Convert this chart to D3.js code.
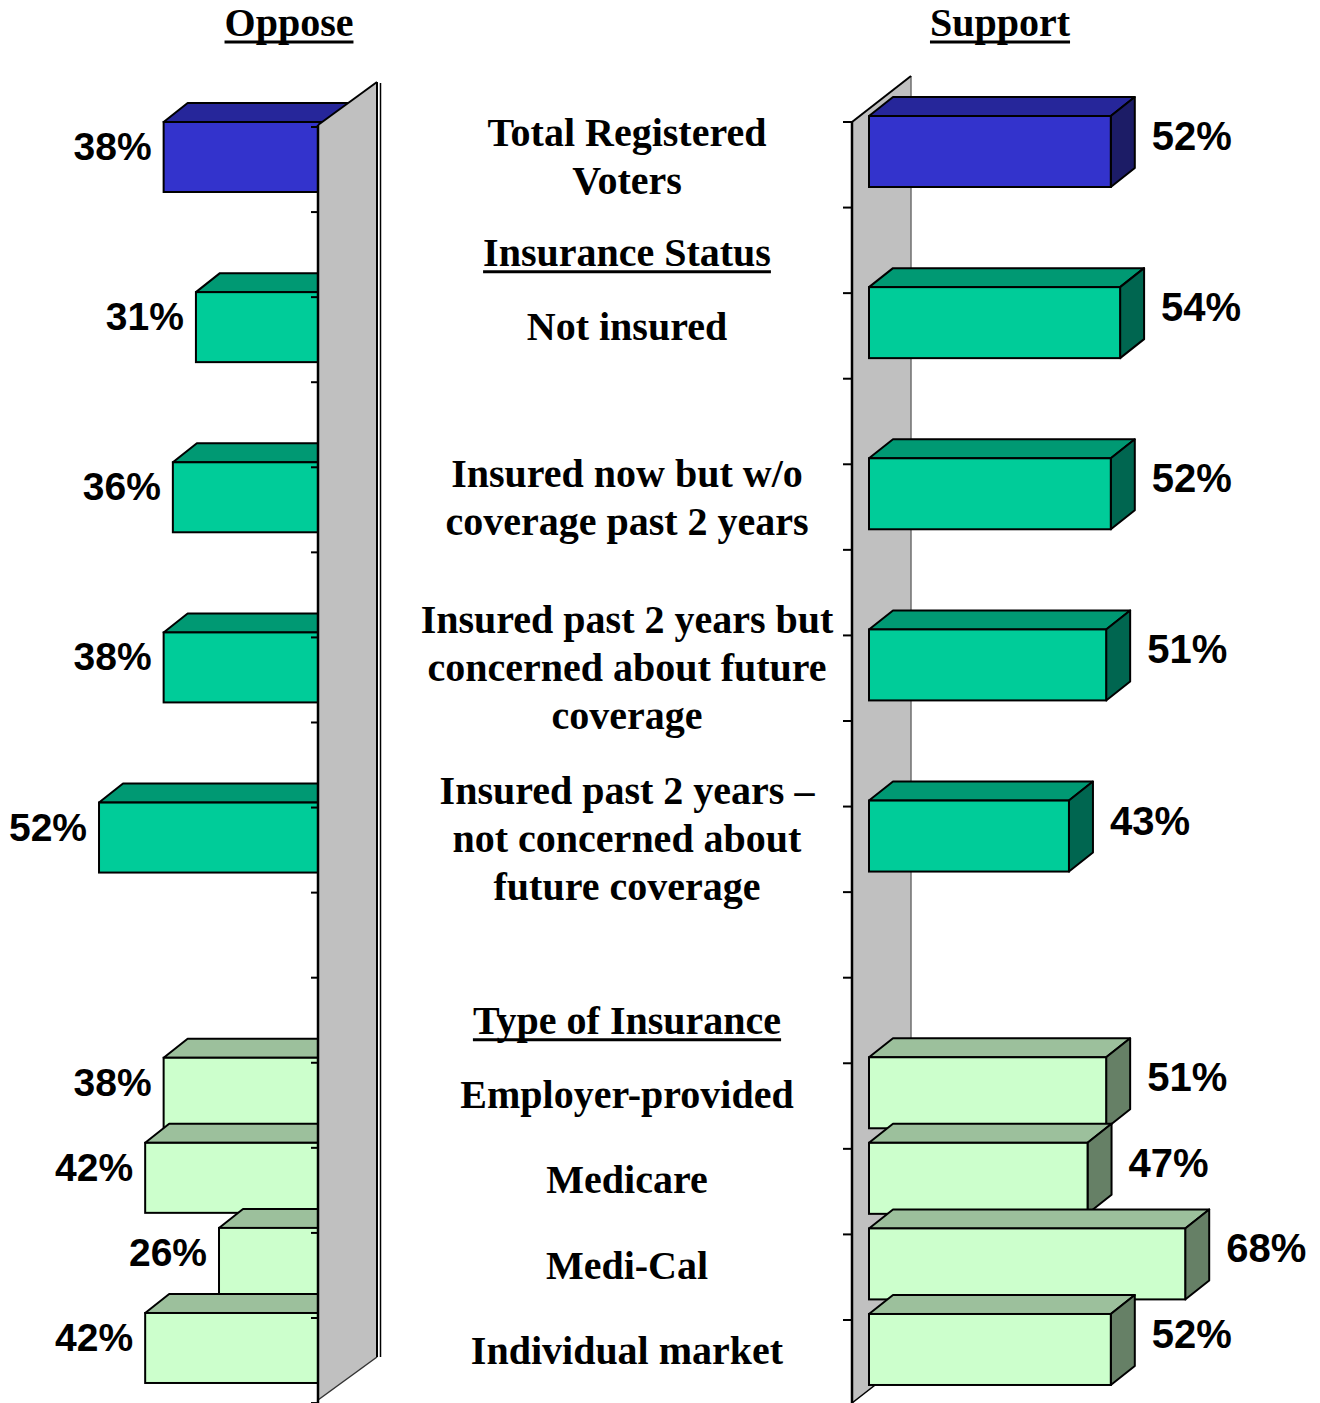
<!DOCTYPE html>
<html>
<head>
<meta charset="utf-8">
<script src="https://cdn.jsdelivr.net/npm/d3@7"></script>
<style>
  html, body { margin: 0; padding: 0; background: #ffffff; }
  svg { display: block; }
</style>
</head>
<body>
<script>
// ---------------- DATA ----------------
const slots = [
  "Total Registered Voters", "Insurance Status", "Not insured", "gap1",
  "Insured now but w/o coverage past 2 years", "gap2",
  "Insured past 2 years but concerned about future coverage", "gap3",
  "Insured past 2 years – not concerned about future coverage", "gap4",
  "Type of Insurance", "Employer-provided", "Medicare", "Medi-Cal", "Individual market"
];
const categories = [
  "Total Registered Voters", "Not insured",
  "Insured now but w/o coverage past 2 years",
  "Insured past 2 years but concerned about future coverage",
  "Insured past 2 years – not concerned about future coverage",
  "Employer-provided", "Medicare", "Medi-Cal", "Individual market"
];
const categoryLines = [
  ["Total Registered", "Voters"],
  ["Not insured"],
  ["Insured now but w/o", "coverage past 2 years"],
  ["Insured past 2 years but", "concerned about future", "coverage"],
  ["Insured past 2 years –", "not concerned about", "future coverage"],
  ["Employer-provided"], ["Medicare"], ["Medi-Cal"], ["Individual market"]
];
const groups = ["total", "status", "status", "status", "status", "type", "type", "type", "type"];
const oppose  = [38, 31, 36, 38, 52, 38, 42, 26, 42];
const support = [52, 54, 52, 51, 43, 51, 47, 68, 52];
const sectionHeaders = ["Insurance Status", "Type of Insurance"];
const panelTitles = ["Oppose", "Support"];

// ---------------- STYLE ----------------
const colors = {
  total:  { front: "#3333CC", top: "#26269A", side: "#1C1C66" },
  status: { front: "#00CC99", top: "#009973", side: "#006650" },
  type:   { front: "#CCFFCC", top: "#9CC09C", side: "#668066" }
};
const W = 1320, H = 1403;
const sansFont = "'Liberation Sans', Arial, sans-serif";
const serifFont = "'Liberation Serif', 'Times New Roman', serif";
const serifSize = 40;

const svg = d3.select("body").append("svg").attr("width", W).attr("height", H);

const data = categories.map((c, i) => ({ c, lines: categoryLines[i], g: groups[i], o: oppose[i], s: support[i] }));

// scales
const yL = d3.scaleBand().domain(slots).range([127, 127 + 15 * 85.07]);
const yR = d3.scaleBand().domain(slots).range([122, 122 + 15 * 85.57]);
const xL = d3.scaleLinear().domain([0, 100]).range([339, 339 - 461.5]);
const xR = d3.scaleLinear().domain([0, 100]).range([869, 869 + 465]);
const DX = 24, DY = -19;

// ---------------- LEFT PANEL (Oppose) ----------------
const gl = svg.append("g");
const lb = gl.selectAll("g.bar").data(data).enter().append("g").attr("class", "bar");
lb.append("polygon")
  .attr("points", d => {
    const t = yL(d.c) - 5;
    return [[xL(d.o), t], [xL(d.o) + DX, t + DY], [xL(0) + DX, t + DY], [xL(0), t]].join(" ");
  })
  .attr("fill", d => colors[d.g].top).attr("stroke", "#000").attr("stroke-width", 2).attr("stroke-linejoin", "round");
lb.append("rect")
  .attr("x", d => xL(d.o)).attr("y", d => yL(d.c) - 5)
  .attr("width", d => xL(0) - xL(d.o)).attr("height", 70)
  .attr("fill", d => colors[d.g].front).attr("stroke", "#000").attr("stroke-width", 2);

// wall (left)
const wl = { x: 318, top: 125, bottom: 1400, dx: 59, dy: -43 };
gl.append("polygon")
  .attr("points", [[wl.x, wl.top], [wl.x + wl.dx, wl.top + wl.dy], [wl.x + wl.dx, wl.bottom + wl.dy], [wl.x, wl.bottom]].join(" "))
  .attr("fill", "#C0C0C0");
gl.append("line").attr("x1", wl.x).attr("x2", wl.x + wl.dx).attr("y1", wl.top).attr("y2", wl.top + wl.dy)
  .attr("stroke", "#000").attr("stroke-width", 2);
gl.append("line").attr("x1", wl.x).attr("x2", wl.x + wl.dx).attr("y1", wl.bottom).attr("y2", wl.bottom + wl.dy)
  .attr("stroke", "#333").attr("stroke-width", 1.5);
gl.append("line").attr("x1", wl.x + wl.dx).attr("x2", wl.x + wl.dx).attr("y1", wl.top + wl.dy).attr("y2", wl.bottom + wl.dy)
  .attr("stroke", "#000").attr("stroke-width", 2);
gl.append("line").attr("x1", wl.x + wl.dx + 3.5).attr("x2", wl.x + wl.dx + 3.5).attr("y1", wl.top + wl.dy + 1).attr("y2", wl.bottom + wl.dy)
  .attr("stroke", "#000").attr("stroke-width", 1.5);
gl.append("line").attr("x1", wl.x).attr("x2", wl.x).attr("y1", wl.top).attr("y2", H)
  .attr("stroke", "#000").attr("stroke-width", 2.5);
// ticks left
const tickYL = slots.map(s => yL(s)).concat([yL.range()[1]]);
gl.selectAll("line.tick").data(tickYL).enter().append("line").attr("class", "tick")
  .attr("x1", wl.x - 7).attr("x2", wl.x).attr("y1", d => d).attr("y2", d => d)
  .attr("stroke", "#000").attr("stroke-width", 2);

// labels left
gl.selectAll("text.val").data(data).enter().append("text").attr("class", "val")
  .attr("x", d => xL(d.o) - 12).attr("y", d => yL(d.c) - 5 + 38)
  .attr("text-anchor", "end")
  .attr("font-family", sansFont).attr("font-weight", "bold").attr("font-size", 39)
  .text(d => d.o + "%");

// ---------------- RIGHT PANEL (Support) ----------------
const gr = svg.append("g");
const wr = { x: 852, top: 122, bottom: 1403, dx: 59, dy: -46 };
gr.append("polygon")
  .attr("points", [[wr.x, wr.top], [wr.x + wr.dx, wr.top + wr.dy], [wr.x + wr.dx, wr.bottom + wr.dy], [wr.x, wr.bottom]].join(" "))
  .attr("fill", "#C0C0C0");
gr.append("line").attr("x1", wr.x + wr.dx).attr("x2", wr.x + wr.dx).attr("y1", wr.top + wr.dy).attr("y2", wr.bottom + wr.dy)
  .attr("stroke", "#6f6f6f").attr("stroke-width", 1.5);
gr.append("line").attr("x1", wr.x).attr("x2", wr.x + wr.dx).attr("y1", wr.top).attr("y2", wr.top + wr.dy)
  .attr("stroke", "#000").attr("stroke-width", 2);
gr.append("line").attr("x1", wr.x).attr("x2", wr.x + wr.dx).attr("y1", wr.bottom).attr("y2", wr.bottom + wr.dy)
  .attr("stroke", "#000").attr("stroke-width", 1.5);
gr.append("line").attr("x1", wr.x).attr("x2", wr.x).attr("y1", wr.top).attr("y2", wr.bottom)
  .attr("stroke", "#000").attr("stroke-width", 2.5);
const tickYR = slots.map(s => yR(s)).concat([yR.range()[1]]);
gr.selectAll("line.tick").data(tickYR).enter().append("line").attr("class", "tick")
  .attr("x1", wr.x - 9).attr("x2", wr.x).attr("y1", d => d).attr("y2", d => d)
  .attr("stroke", "#000").attr("stroke-width", 2);

const rb = gr.selectAll("g.bar").data(data).enter().append("g").attr("class", "bar");
rb.append("polygon")
  .attr("points", d => {
    const t = yR(d.c) - 6;
    return [[xR(0), t], [xR(0) + DX, t + DY], [xR(d.s) + DX, t + DY], [xR(d.s), t]].join(" ");
  })
  .attr("fill", d => colors[d.g].top).attr("stroke", "#000").attr("stroke-width", 2).attr("stroke-linejoin", "round");
rb.append("polygon")
  .attr("points", d => {
    const t = yR(d.c) - 6, b = t + 71;
    return [[xR(d.s), t], [xR(d.s) + DX, t + DY], [xR(d.s) + DX, b + DY], [xR(d.s), b]].join(" ");
  })
  .attr("fill", d => colors[d.g].side).attr("stroke", "#000").attr("stroke-width", 2).attr("stroke-linejoin", "round");
rb.append("rect")
  .attr("x", xR(0)).attr("y", d => yR(d.c) - 6)
  .attr("width", d => xR(d.s) - xR(0)).attr("height", 71)
  .attr("fill", d => colors[d.g].front).attr("stroke", "#000").attr("stroke-width", 2);

gr.selectAll("text.val").data(data).enter().append("text").attr("class", "val")
  .attr("x", d => xR(d.s) + DX + 17).attr("y", d => yR(d.c) - 6 + 34)
  .attr("text-anchor", "start")
  .attr("font-family", sansFont).attr("font-weight", "bold").attr("font-size", 40)
  .text(d => d.s + "%");

// ---------------- CENTER CATEGORY LABELS ----------------
const cx = 627;
const lineH = 48;
const gc = svg.append("g");
data.forEach(d => {
  const cy = (yL(d.c) + yR(d.c)) / 2 + 32;
  const n = d.lines.length;
  d.lines.forEach((ln, j) => {
    gc.append("text")
      .attr("x", cx).attr("y", cy - (n - 1) * lineH / 2 + j * lineH + 13)
      .attr("text-anchor", "middle")
      .attr("font-family", serifFont).attr("font-weight", "bold").attr("font-size", serifSize)
      .text(ln);
  });
});

function underlinedText(g, text, x, y) {
  const t = g.append("text")
    .attr("x", x).attr("y", y).attr("text-anchor", "middle")
    .attr("font-family", serifFont).attr("font-weight", "bold").attr("font-size", serifSize)
    .text(text);
  const w = t.node().getComputedTextLength();
  g.append("line").attr("x1", x - w / 2).attr("x2", x + w / 2).attr("y1", y + 6).attr("y2", y + 6)
    .attr("stroke", "#000").attr("stroke-width", 3);
}
sectionHeaders.forEach(h => {
  const cy = (yL(h) + yR(h)) / 2 + 43;
  underlinedText(gc, h, cx, cy + 13);
});

// panel titles
underlinedText(svg, panelTitles[0], 289, 36);
underlinedText(svg, panelTitles[1], 1000, 36);
</script>
</body>
</html>
